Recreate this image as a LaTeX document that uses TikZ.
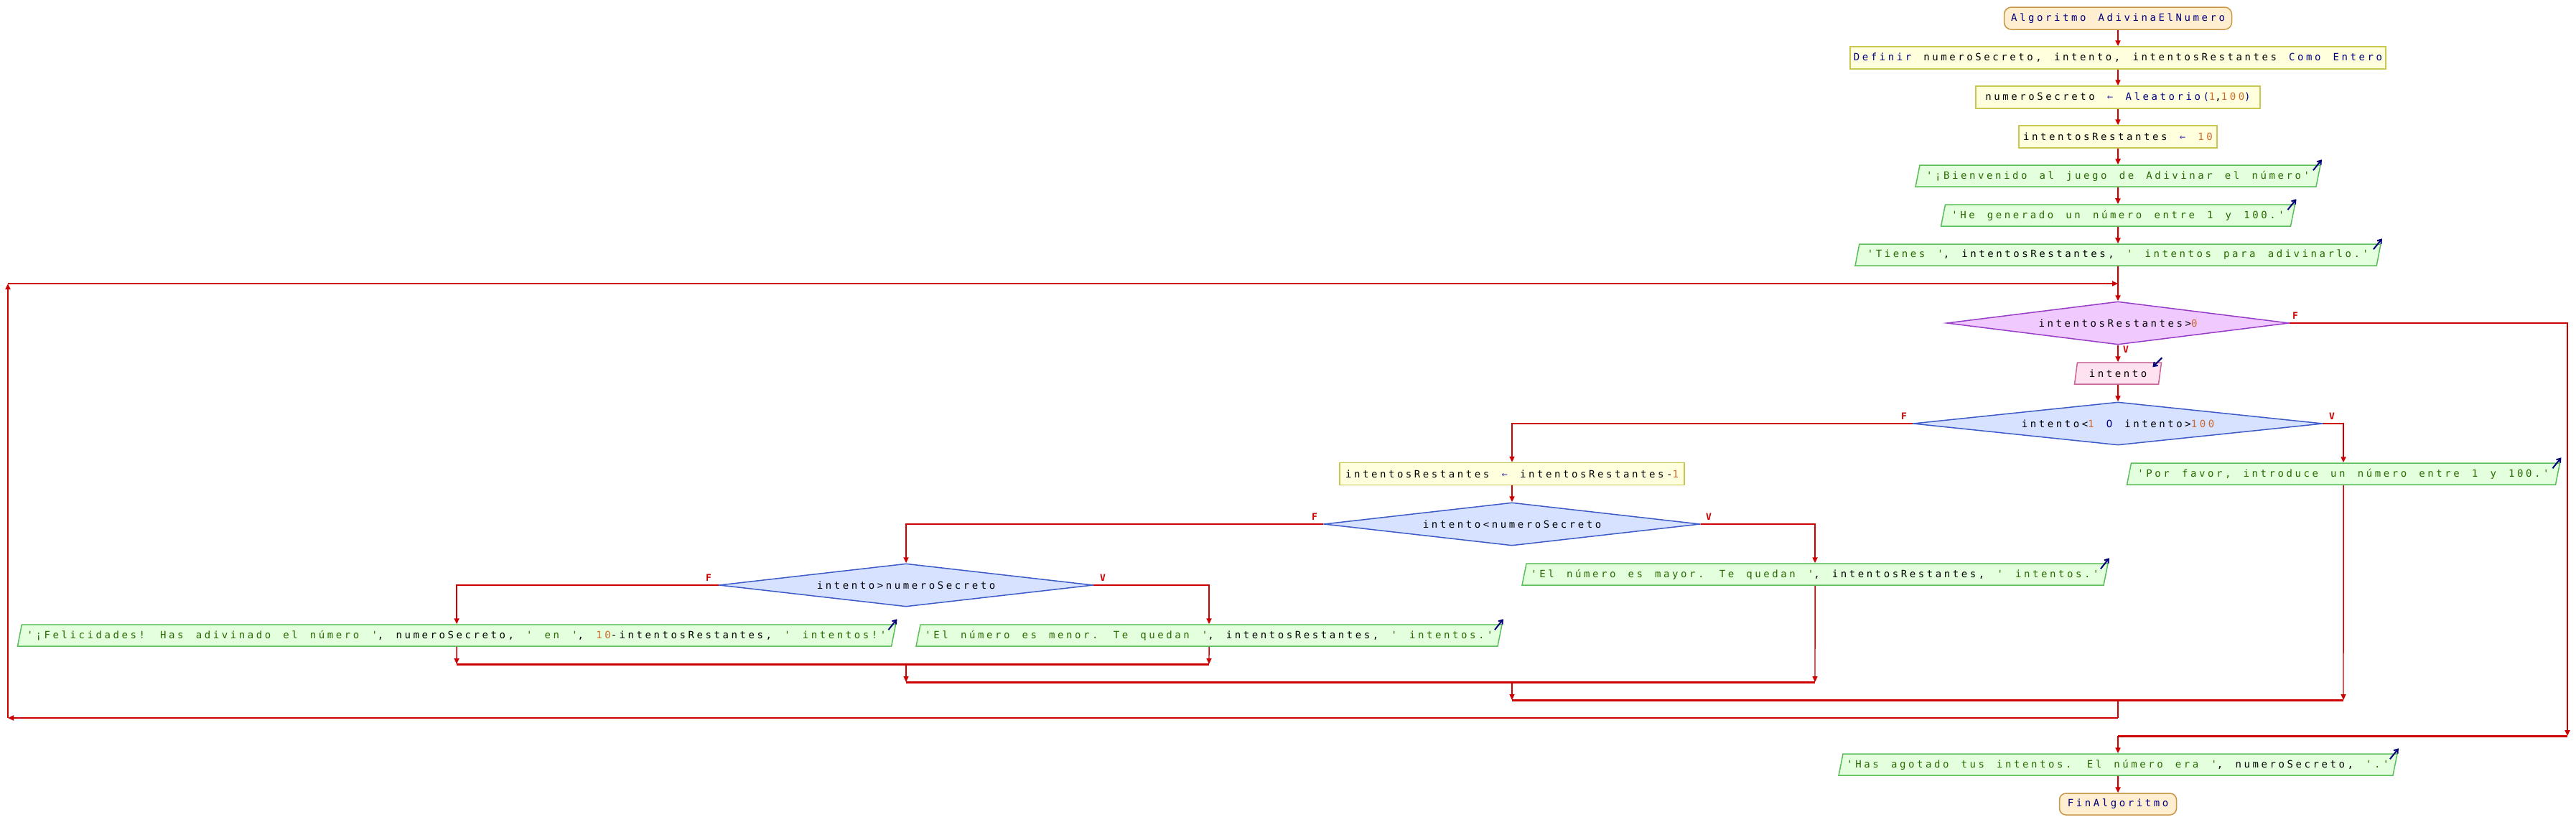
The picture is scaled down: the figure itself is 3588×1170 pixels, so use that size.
\documentclass[tikz,border=0pt]{standalone}
\usepackage{fontspec}
\usetikzlibrary{shapes.geometric,arrows.meta,calc}
\newfontfamily\pf[Ligatures=TeXOff,LetterSpace=25.5,WordSpace=1.43]{DejaVu Sans Mono}
\newfontfamily\lf{DejaVu Sans Mono}
\definecolor{kwc}{RGB}{0,0,128}
\definecolor{strc}{RGB}{40,105,0}
\definecolor{numc}{RGB}{205,105,45}
\definecolor{asgc}{RGB}{70,60,170}
\definecolor{flowc}{RGB}{204,0,0}
\definecolor{iconc}{RGB}{0,0,120}
\definecolor{termf}{RGB}{255,238,208}
\definecolor{termb}{RGB}{200,150,70}
\definecolor{procf}{RGB}{255,255,221}
\definecolor{procb}{RGB}{200,200,80}
\definecolor{outf}{RGB}{228,255,222}
\definecolor{outb}{RGB}{90,190,90}
\definecolor{inf}{RGB}{255,226,240}
\definecolor{inb}{RGB}{200,100,150}
\definecolor{condf}{RGB}{214,226,255}
\definecolor{condb}{RGB}{60,90,200}
\definecolor{loopf}{RGB}{240,202,255}
\definecolor{loopb}{RGB}{150,60,200}
\newcommand\kw[1]{\textcolor{kwc}{#1}}
\newcommand\st[1]{\textcolor{strc}{#1}}
\newcommand\nm[1]{\textcolor{numc}{#1}}
\newcommand\asg{\textcolor{asgc}{←}}
\tikzset{
  base/.style={font=\pf\fontsize{14}{16}\selectfont, inner sep=0pt, inner xsep=5pt, align=center},
  term/.style={base, rectangle, rounded corners=10pt, draw=termb, fill=termf, line width=1.5pt, minimum height=31pt},
  proc/.style={base, rectangle, draw=procb, fill=procf, line width=1.5pt, minimum height=31pt},
  outp/.style={base, trapezium, trapezium left angle=67, trapezium right angle=113, trapezium stretches body, draw=outb, fill=outf, line width=1.5pt, minimum height=30pt},
  inp/.style={base, trapezium, trapezium left angle=70, trapezium right angle=110, trapezium stretches body, draw=inb, fill=inf, line width=1.5pt, minimum height=30pt},
  cond/.style={base, inner xsep=0pt, diamond, aspect=8, draw=condb, fill=condf, line width=1.5pt},
  loopc/.style={cond, draw=loopb, fill=loopf},
  flow/.style={draw=flowc, line width=2pt, -{Triangle[length=8pt,width=7pt]}},
  thinflow/.style={draw=flowc, line width=1.4pt, -{Triangle[length=8pt,width=7pt]}},
  plain/.style={draw=flowc, line width=1.4pt},
  merge/.style={draw=flowc, line width=3pt},
  loopline/.style={draw=flowc, line width=2.5pt, -{Triangle[length=8pt,width=7pt]}},
  lbl/.style={text=flowc, font=\lf\bfseries\fontsize{13}{15}\selectfont, inner sep=0pt},
  ioarrow/.style={draw=iconc, line width=2pt, -{Straight Barb[length=5pt,width=7pt]}}
}
\begin{document}
\begin{tikzpicture}[x=1pt,y=-1pt]
\useasboundingbox (0,0) rectangle (3588,1170);
% nodes
\node[term, minimum width=317pt] (start) at (2950,25.5) {\kw{Algoritmo AdivinaElNumero}};
\node[proc, minimum width=742pt] (def) at (2950,80.5) {\kw{Definir} numeroSecreto, intento, intentosRestantes \kw{Como Entero}};
\node[proc, minimum width=396pt] (a1) at (2950,135.5) {numeroSecreto \asg{} \kw{Aleatorio(}\nm{1},\nm{100}\kw{)}};
\node[proc, minimum width=276pt] (a2) at (2950,190.5) {intentosRestantes \asg{} \nm{10}};
\node[outp, minimum width=564pt] (o1) at (2950,245) {\st{'¡Bienvenido al juego de Adivinar el número'}};
\node[outp, minimum width=493pt] (o2) at (2950,300) {\st{'He generado un número entre 1 y 100.'}};
\node[outp, minimum width=732pt] (o3) at (2950,355) {\st{'Tienes '}, intentosRestantes, \st{' intentos para adivinarlo.'}};
\node[loopc, minimum width=477pt, minimum height=60pt] (w) at (2950,450) {intentosRestantes>\nm{0}};
\node[inp, minimum width=121pt] (in) at (2950,520) {intento};
\node[cond, minimum width=571pt, minimum height=60pt] (d2) at (2950,590) {intento<\nm{1} \kw{O} intento>\nm{100}};
\node[outp, minimum width=603pt] (o4) at (3264,660) {\st{'Por favor, introduce un número entre 1 y 100.'}};
\node[proc, minimum width=480pt] (a3) at (2106,660) {intentosRestantes \asg{} intentosRestantes-\nm{1}};
\node[cond, minimum width=524pt, minimum height=60pt] (d3) at (2106,730) {intento<numeroSecreto};
\node[outp, minimum width=816pt] (o5) at (2528,800) {\st{'El número es mayor. Te quedan '}, intentosRestantes, \st{' intentos.'}};
\node[cond, minimum width=521pt, minimum height=60pt] (d4) at (1262,815) {intento>numeroSecreto};
\node[outp, minimum width=1223pt] (o6) at (636,885) {\st{'¡Felicidades! Has adivinado el número '}, numeroSecreto, \st{' en '}, \nm{10}-intentosRestantes, \st{' intentos!'}};
\node[outp, minimum width=816pt] (o7) at (1684,885) {\st{'El número es menor. Te quedan '}, intentosRestantes, \st{' intentos.'}};
\node[outp, minimum width=778pt] (o8) at (2950,1065) {\st{'Has agotado tus intentos. El número era '}, numeroSecreto, \st{'.'}};
\node[term, minimum width=163pt, minimum height=30pt, rounded corners=9pt] (end) at (2950,1120) {\kw{FinAlgoritmo}};
% io icons
\foreach \n in {o1,o2,o3,o4,o5,o6,o7,o8}{
  \draw[ioarrow] ($(\n.top right corner)+(-11,8)$) -- ($(\n.top right corner)+(1,-7)$);
}
\draw[ioarrow] ($(in.top right corner)+(0,-6)$) -- ($(in.top right corner)+(-13,7)$);
% labels
\node[lbl] (lwF) at (3197,440) {F};
\node[lbl] (lwV) at (2961,487) {V};
\node[lbl] (l2F) at (2652,580) {F};
\node[lbl] (l2V) at (3248,580) {V};
\node[lbl] (l3F) at (1831,720) {F};
\node[lbl] (l3V) at (2380,720) {V};
\node[lbl] (l4F) at (987,805) {F};
\node[lbl] (l4V) at (1536,805) {V};
% coordinates
\coordinate (m1l) at (636,925);
\coordinate (m1r) at (1684,925);
\coordinate (m2l) at (1262,950);
\coordinate (m2r) at (2528,950);
\coordinate (m3l) at (2106,975);
\coordinate (m3r) at (3264,975);
\coordinate (lb) at (2950,1000);
\coordinate (lbl) at (11,1000);
\coordinate (ltl) at (11,395);
\coordinate (jn) at (2950,395);
\coordinate (wf) at (3576,1025);
\coordinate (ex) at (2950,1025);
% connectors
\draw[flow] (start) -- (def);
\draw[flow] (def) -- (a1);
\draw[flow] (a1) -- (a2);
\draw[flow] (a2) -- (o1);
\draw[flow] (o1) -- (o2);
\draw[flow] (o2) -- (o3);
\draw[flow] (o3) -- (w);
\draw[flow] (w) -- (in);
\draw[flow] (in) -- (d2);
\draw[flow] (d2.west) -| (a3.north);
\draw[flow] (d2.east) -| (o4.north);
\draw[flow] (a3) -- (d3);
\draw[flow] (d3.west) -| (d4.north);
\draw[flow] (d3.east) -| (o5.north);
\draw[flow] (d4.west) -| (o6.north);
\draw[flow] (d4.east) -| (o7.north);
\draw[thinflow] (o6.south) -- (m1l);
\draw[thinflow] (o7.south) -- (m1r);
\draw[merge] (m1l) -- (m1r);
\draw[thinflow] (d4.south |- m1l) -- (m2l);
\draw[thinflow] (o5.south) -- (m2r);
\draw[merge] (m2l) -- (m2r);
\draw[thinflow] (d3.south |- m2l) -- (m3l);
\draw[thinflow] (o4.south) -- (m3r);
\draw[merge] (m3l) -- (m3r);
\draw[plain] (d2.south |- m3l) -- (lb);
\draw[loopline] (lb) -- (lbl);
\draw[loopline] (lbl) -- (ltl);
\draw[loopline] (ltl) -- (jn);
\draw[flow] (w.east) -| (wf);
\draw[merge] (ex) -- (wf);
\draw[flow] (ex) -- (o8);
\draw[flow] (o8) -- (end);
\end{tikzpicture}
\end{document}
